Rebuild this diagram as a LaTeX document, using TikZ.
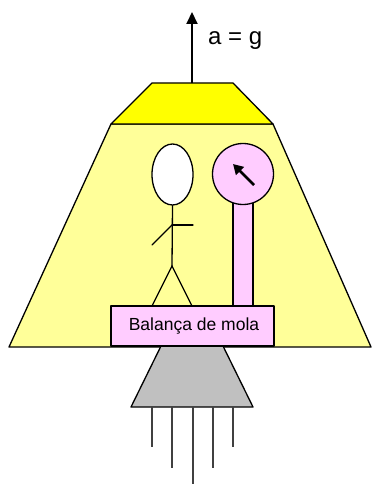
\documentclass[tikz,border=0pt]{standalone}
\usepackage{fontspec}
\setmainfont{Liberation Sans}
\usetikzlibrary{arrows.meta,shapes.geometric}
\definecolor{cabin}{HTML}{FFFF99}
\definecolor{lid}{HTML}{FFFF00}
\definecolor{pinkfill}{HTML}{FFCCFF}
\definecolor{basegray}{HTML}{C0C0C0}
\definecolor{wire}{HTML}{404040}
\begin{document}
\begin{tikzpicture}[x=1pt,y=-1pt,
  outline/.style={draw=black,line width=1.3pt,line join=round},
  stick/.style={draw=black,line width=1.3pt,line cap=round},
  wireline/.style={draw=wire,line width=1.6pt},
  bigarrow/.style={line width=2pt,-{Triangle[length=12pt,width=11pt]}},
  needle/.style={line width=2.6pt,-{Triangle[length=10pt,width=11pt]}}]
\useasboundingbox (0,0) rectangle (372,484);

% elevator cabin and its roof
\path[outline,fill=cabin] (111,124) -- (273,124) -- (371,347) -- (9,347) -- cycle;
\path[outline,fill=lid] (152,83) -- (233,83) -- (273,124) -- (111,124) -- cycle;

% acceleration arrow
\coordinate (rooftop) at (192,83);
\coordinate (arrowtip) at (192,12);
\draw[bigarrow] (rooftop) -- (arrowtip);
\node[anchor=west,font=\fontsize{24}{26}\selectfont,inner sep=0] (acc) at (208,41) {a = g};

% engine block and its cables
\path[outline,fill=basegray] (161,346) -- (223,346) -- (253,407) -- (131,407) -- cycle;
\foreach \x/\y [count=\i] in {152/447,172/468,193/484,213/468,233/447}{
  \coordinate (w\i a) at (\x,407);
  \coordinate (w\i b) at (\x,\y);
  \draw[wireline] (w\i a) -- (w\i b);
}

% spring scale: column, dial and needle
\node[outline,fill=pinkfill,minimum width=20pt,minimum height=104pt,inner sep=0] (column) at (243,255) {};
\node[circle,outline,fill=pinkfill,minimum size=61pt,inner sep=0] (dial) at (243,174) {};
\coordinate (needletail) at (254,185);
\coordinate (needletip) at (233,164);
\draw[needle] (needletail) -- (needletip);

% stick figure
\node[ellipse,outline,fill=white,minimum width=41pt,minimum height=61pt,inner sep=0] (head) at (172.5,174.5) {};
\coordinate (shoulder) at (172,225);
\coordinate (hip) at (172,266);
\coordinate (righthand) at (193,225);
\coordinate (lefthand) at (152,245);
\coordinate (leftfoot) at (152,306);
\coordinate (rightfoot) at (192,306);
\draw[stick] (head.south) -- (hip);
\draw[stick] (shoulder) -- (righthand);
\draw[stick] (shoulder) -- (lefthand);
\draw[stick] (leftfoot) -- (hip) -- (rightfoot);

% scale platform
\node[outline,fill=pinkfill,minimum width=163pt,minimum height=40pt,inner sep=0,
      font=\fontsize{17.5}{20}\selectfont] (scale) at (192.5,326) {\hspace{3pt}Balança de mola};
\end{tikzpicture}
\end{document}
